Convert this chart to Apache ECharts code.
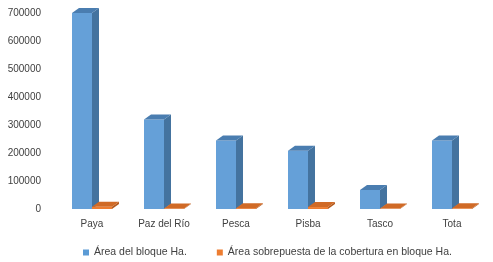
<!DOCTYPE html>
<html>
<head>
<meta charset="utf-8">
<script src="https://cdn.jsdelivr.net/npm/echarts@6/dist/echarts.min.js"></script>
<style>
  html, body { margin: 0; padding: 0; background: #fff; }
  #chart { width: 493px; height: 262px; }
</style>
</head>
<body>
<div id="chart"></div>
<script>
const categories = ['Paya', 'Paz del Río', 'Pesca', 'Pisba', 'Tasco', 'Tota'];
const areaBloque = [700000, 320000, 245000, 208000, 68000, 245000];
const areaSobrepuesta = [8000, 2000, 3000, 7000, 1500, 2500];
const seriesNames = ['Área del bloque Ha.', 'Área sobrepuesta de la cobertura en bloque Ha.'];

const BAR_W = 20;
const DX = 7;
const DY = 5;

// fake 3d box: front, side and top faces
function box3d(colors, shift) {
    return function (params, api) {
        const top = api.coord([api.value(0), api.value(1)]);
        const base = api.coord([api.value(0), 0]);
        const left = top[0] + shift;
        const right = left + BAR_W;
        const y0 = top[1];
        const y1 = base[1];
        return {
            type: 'group',
            children: [
                {
                    type: 'rect',
                    shape: { x: left, y: y0, width: BAR_W, height: y1 - y0 },
                    style: { fill: colors.front }
                },
                {
                    type: 'polygon',
                    shape: { points: [[right, y0], [right + DX, y0 - DY], [right + DX, y1 - DY], [right, y1]] },
                    style: { fill: colors.side }
                },
                {
                    type: 'polygon',
                    shape: { points: [[left, y0], [left + DX, y0 - DY], [right + DX, y0 - DY], [right, y0]] },
                    style: { fill: colors.top }
                }
            ]
        };
    };
}

const chart = echarts.init(document.getElementById('chart'));

chart.setOption({
    animation: false,
    backgroundColor: '#fff',
    textStyle: { fontFamily: 'Liberation Sans' },
    grid: { left: 56, right: 5, top: 13, bottom: 53 },
    legend: {
        left: 78,
        top: 242,
        itemWidth: 6,
        itemHeight: 6,
        itemGap: 30,
        icon: 'rect',
        textStyle: { fontSize: 10.5, color: '#404040', fontFamily: 'Liberation Sans' },
        data: seriesNames
    },
    xAxis: {
        type: 'category',
        data: categories,
        axisLine: { show: false },
        axisTick: { show: false },
        axisLabel: { color: '#404040', fontSize: 10, margin: 10 }
    },
    yAxis: {
        type: 'value',
        min: 0,
        max: 700000,
        interval: 100000,
        splitLine: { show: false },
        axisLine: { show: false },
        axisTick: { show: false },
        axisLabel: { color: '#404040', fontSize: 10, margin: 15, formatter: v => String(v) }
    },
    series: [
        {
            name: seriesNames[0],
            type: 'custom',
            itemStyle: { color: '#5B9BD5' },
            renderItem: box3d({ front: '#65A0D8', side: '#44739F', top: '#4A7DB0' }, -BAR_W),
            encode: { x: 0, y: 1 },
            data: categories.map((c, i) => [i, areaBloque[i]])
        },
        {
            name: seriesNames[1],
            type: 'custom',
            itemStyle: { color: '#ED7D31' },
            renderItem: box3d({ front: '#ED7D31', side: '#B35A1F', top: '#D06A26' }, 0),
            encode: { x: 0, y: 1 },
            data: categories.map((c, i) => [i, areaSobrepuesta[i]])
        }
    ]
});
</script>
</body>
</html>
